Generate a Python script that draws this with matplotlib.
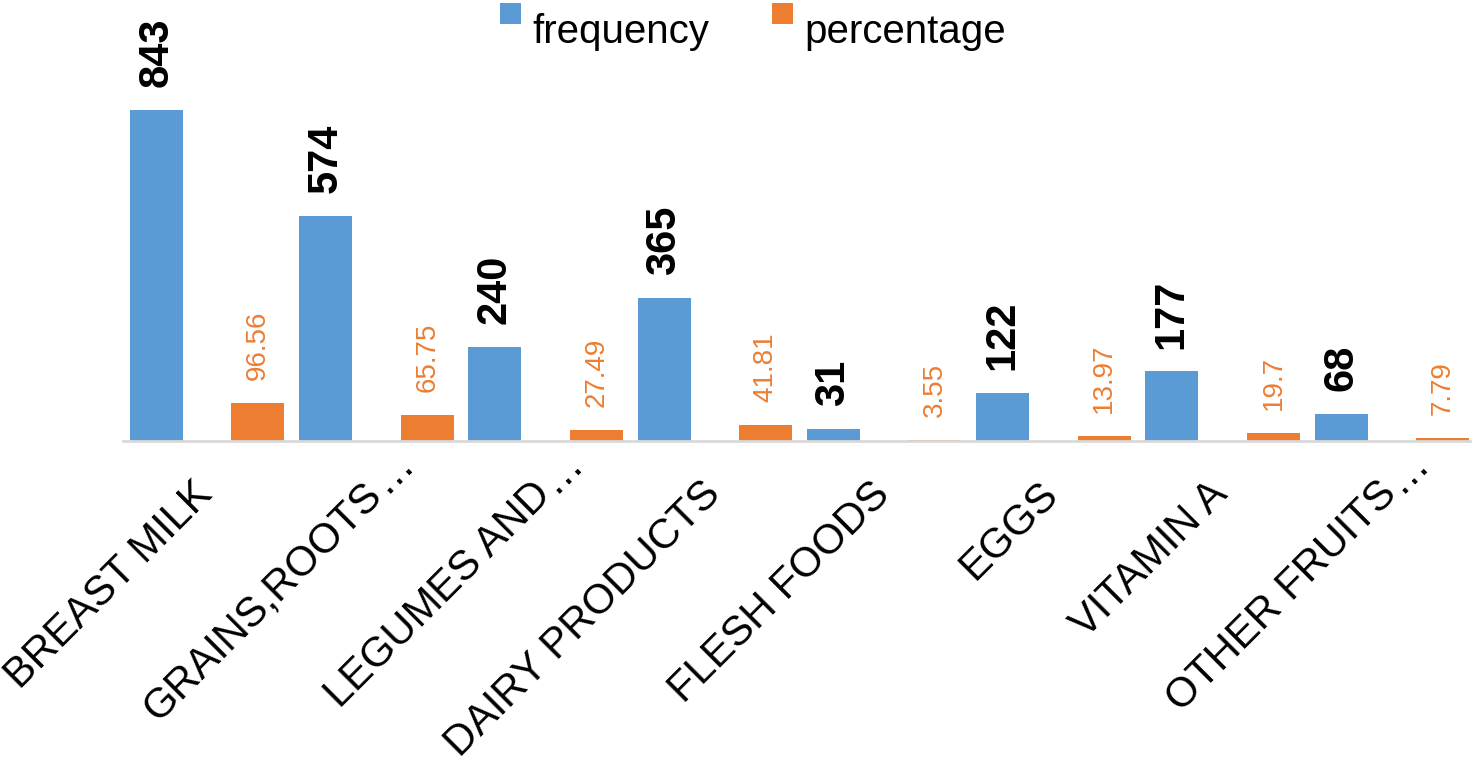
import numpy as np
import matplotlib.pyplot as plt
from matplotlib.patches import Rectangle

plt.rcParams['font.family'] = ['Liberation Sans', 'DejaVu Sans']

# data
categories = ['BREAST MILK', 'GRAINS,ROOTS', 'LEGUMES AND', 'DAIRY PRODUCTS',
              'FLESH FOODS', 'EGGS', 'VITAMIN A', 'OTHER FRUITS']
truncated = [False, True, True, False, False, False, False, True]
frequency = [843, 574, 240, 365, 31, 122, 177, 68]
percentage = [96.56, 65.75, 27.49, 41.81, 3.55, 13.97, 19.7, 7.79]
pct_labels = ['96.56', '65.75', '27.49', '41.81', '3.55', '13.97', '19.7', '7.79']
series = ['frequency', 'percentage']

blue = '#5B9BD5'
orange = '#ED7D31'

W, H = 1479, 762
fig = plt.figure(figsize=(W / 100, H / 100), dpi=100)
ax = fig.add_axes([122.5 / W, 321 / H, 1354 / W, 441 / H])

x = np.arange(len(categories))
bw = 0.313
b1 = ax.bar(x - 0.3, frequency, bw, color=blue, label=series[0])
b2 = ax.bar(x + 0.3, percentage, bw, color=orange, label=series[1])

ax.set_xlim(-0.5, len(categories) - 0.5)
ax.set_ylim(0, 1123)

# value labels
for xi, v in zip(x, frequency):
    ax.annotate(str(v), (xi - 0.3, v), xytext=(0, 16.5), textcoords='offset points',
                rotation=90, ha='center', va='bottom', fontsize=30, fontweight='bold',
                color='black')
for xi, v, s in zip(x, percentage, pct_labels):
    ax.annotate(s, (xi + 0.3, v), xytext=(0, 16.5), textcoords='offset points',
                rotation=90, ha='center', va='bottom', fontsize=20, color=orange)

# category labels at 45 degrees, ellipsis runs past the cut names
for xi, name, cut in zip(x, categories, truncated):
    ax.annotate(name, (xi, 0), xytext=(-10.8, -23.8), textcoords='offset points',
                rotation=45, rotation_mode='anchor', ha='right', va='top',
                fontsize=30, color='black')
    if cut:
        ax.annotate('\u2026', (xi, 0), xytext=(-9.6, -22.6), textcoords='offset points',
                    rotation=45, rotation_mode='anchor', ha='left', va='top',
                    fontsize=30, color='black')

ax.set_xticks([])
ax.set_yticks([])
for side in ['top', 'right', 'left']:
    ax.spines[side].set_visible(False)
ax.spines['bottom'].set_color('#D9D9D9')
ax.spines['bottom'].set_linewidth(2.0)
ax.spines['bottom'].set_bounds(-0.5, 7.46)

# legend drawn by hand: small square keys sit high, like the original
keys = [(500, 532, blue), (772, 804, orange)]
for (kx, tx, col), name in zip(keys, series):
    fig.add_artist(Rectangle((kx / W, 1 - 24 / H), 21 / W, 21 / H,
                             transform=fig.transFigure, color=col, lw=0))
    fig.text(tx / W, 1 - 43 / H, name, fontsize=29, va='baseline', ha='left')

fig.savefig('out.png', dpi=100)
